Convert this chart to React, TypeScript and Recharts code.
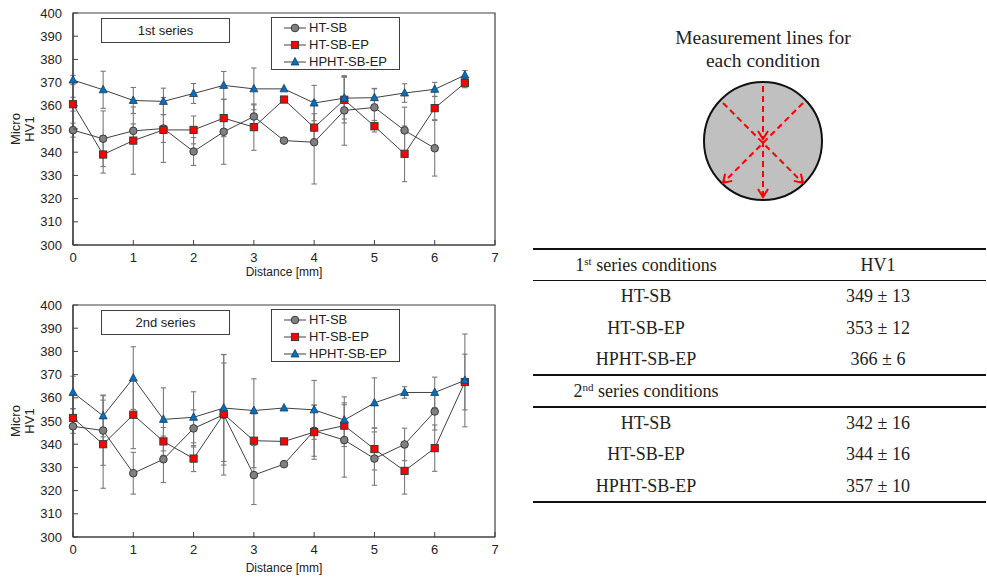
import React from "react";
import { LineChart, Line, XAxis, YAxis, ErrorBar, ReferenceArea, Legend } from "recharts";

const distances = [0, 0.5, 1, 1.5, 2, 2.5, 3, 3.5, 4, 4.5, 5, 5.5, 6, 6.5];
const seriesNames = ["HT-SB", "HT-SB-EP", "HPHT-SB-EP"];
const xTicks = [0, 1, 2, 3, 4, 5, 6, 7];
const yTicks = [300, 310, 320, 330, 340, 350, 360, 370, 380, 390, 400];

// 1st series
const s1HtSb = [349.5, 345.8, 349.2, 350.2, 340.3, 348.8, 355.4, 345.0, 344.3, 358.0, 359.3, 349.4, 341.7, null];
const s1HtSbErr = [3, 12, 3, 6, 6, 14, 5, 0, 18, 15, 8, 10, 12, 0];
const s1HtSbEp = [360.7, 339.0, 345.0, 349.6, 349.6, 354.7, 350.8, 362.7, 350.6, 362.6, 351.2, 339.3, 359.0, 369.8];
const s1HtSbEpErr = [3, 8, 14.5, 14, 6, 8, 10, 0, 6, 10, 2.5, 12, 5, 2];
const s1HphtSbEp = [371.1, 366.9, 362.3, 361.9, 365.3, 368.8, 367.3, 367.3, 361.2, 363.3, 363.5, 365.5, 367.1, 373.2];
const s1HphtSbEpErr = [2, 8, 5.6, 5.7, 4.3, 6, 9, 0, 7.6, 9, 4, 4, 3, 2];

// 2nd series
const s2HtSb = [347.7, 345.9, 327.5, 333.5, 346.8, 352.7, 326.7, 331.4, 345.8, 341.8, 333.8, 339.9, 354.1, null];
const s2HtSbErr = [3, 15, 9, 10, 8, 26, 12.7, 0, 11, 16, 11.5, 7, 8, 0];
const s2HtSbEp = [351.3, 340.0, 352.7, 341.2, 333.8, 353.0, 341.5, 341.2, 345.2, 348.0, 337.9, 328.5, 338.3, 366.8];
const s2HtSbEpErr = [4, 19, 14.6, 6, 5.6, 22, 11.6, 0, 11.7, 9, 9, 10, 10, 12];
const s2HphtSbEp = [362.3, 352.2, 368.5, 350.7, 351.6, 355.6, 354.5, 355.6, 354.8, 350.4, 357.8, 362.3, 362.3, 367.5];
const s2HphtSbEpErr = [7, 9, 13.5, 13.6, 11, 23, 13.7, 0, 12.7, 10, 10.8, 2.5, 6.6, 20];

// table values
const conditions = ["HT-SB", "HT-SB-EP", "HPHT-SB-EP"];
const firstHv = ["349 ± 13", "353 ± 12", "366 ± 6"];
const secondHv = ["342 ± 16", "344 ± 16", "357 ± 10"];

const sans = "Arial, 'Liberation Sans', sans-serif";
const serif = "'Times New Roman', 'Liberation Serif', serif";
const axisColor = "#404040";

function buildRows(a: (number | null)[], ae: number[], b: number[], be: number[], c: number[], ce: number[]) {
  return distances.map((d, i) => ({ d, a: a[i], ae: ae[i], b: b[i], be: be[i], c: c[i], ce: ce[i] }));
}

const rows1 = buildRows(s1HtSb, s1HtSbErr, s1HtSbEp, s1HtSbEpErr, s1HphtSbEp, s1HphtSbEpErr);
const rows2 = buildRows(s2HtSb, s2HtSbErr, s2HtSbEp, s2HtSbEpErr, s2HphtSbEp, s2HphtSbEpErr);

const circleDot = (p: any) =>
  p.cy == null ? <g key={`c${p.index}`} /> : (
    <circle key={`c${p.index}`} cx={p.cx} cy={p.cy} r={3.8} fill="#808080" stroke="#3a3a3a" strokeWidth={1} />
  );
const squareDot = (p: any) =>
  p.cy == null ? <g key={`s${p.index}`} /> : (
    <rect key={`s${p.index}`} x={p.cx - 3.6} y={p.cy - 3.6} width={7.2} height={7.2} fill="#ff0000" stroke="#3a3a3a" strokeWidth={1} />
  );
const triDot = (p: any) =>
  p.cy == null ? <g key={`t${p.index}`} /> : (
    <polygon
      key={`t${p.index}`}
      points={`${p.cx},${p.cy - 4.5} ${p.cx - 4},${p.cy + 3} ${p.cx + 4},${p.cy + 3}`}
      fill="#0070c0"
      stroke="#1f3b5a"
      strokeWidth={0.8}
    />
  );

const XTick = (props: any) => {
  const { x, y, payload } = props;
  return (
    <g>
      <line x1={x} x2={x} y1={y - 12} y2={y - 17} stroke={axisColor} />
      <text x={x} y={y} dy={4.5} textAnchor="middle" fontSize={13} fontFamily={sans} fill="#222">
        {payload.value}
      </text>
    </g>
  );
};

const YTick = (props: any) => {
  const { x, y, payload } = props;
  return (
    <g>
      <line x1={x + 11} x2={x + 16} y1={y} y2={y} stroke={axisColor} />
      <text x={x} y={y} dy={4.5} textAnchor="end" fontSize={13} fontFamily={sans} fill="#222">
        {payload.value}
      </text>
    </g>
  );
};

const YLabel = (props: any) => {
  const vb = props.viewBox || { y: 13, height: 232 };
  const cx = 22;
  const cy = vb.y + vb.height / 2;
  return (
    <text x={cx} y={cy} transform={`rotate(-90, ${cx}, ${cy})`} textAnchor="middle" fontSize={13} fontFamily={sans} fill="#222">
      <tspan x={cx} dy={-2.5}>Micro</tspan>
      <tspan x={cx} dy={14}>HV1</tspan>
    </text>
  );
};

const LegendBox = () => {
  const marks = [
    <circle cx={11} cy={7} r={3.8} fill="#808080" stroke="#3a3a3a" />,
    <rect x={7.4} y={3.4} width={7.2} height={7.2} fill="#ff0000" stroke="#3a3a3a" />,
    <polygon points="11,2.5 7,10 15,10" fill="#0070c0" stroke="#1f3b5a" strokeWidth={0.8} />,
  ];
  return (
    <div
      style={{
        width: 127,
        height: 50,
        border: `1px solid ${axisColor}`,
        background: "#fff",
        boxSizing: "content-box",
        paddingTop: 1,
      }}
    >
      {seriesNames.map((n, i) => (
        <div key={n} style={{ display: "flex", alignItems: "center", height: 17, paddingLeft: 12 }}>
          <svg width={24} height={14}>
            <line x1={0} x2={22} y1={7} y2={7} stroke={axisColor} />
            {marks[i]}
          </svg>
          <span style={{ fontFamily: sans, fontSize: 13, color: "#222", lineHeight: "17px", marginLeft: 1 }}>{n}</span>
        </div>
      ))}
    </div>
  );
};

function HardnessChart({ rows, title, top, labelOffset }: { rows: any[]; title: string; top: number; labelOffset: number }) {
  return (
    <div style={{ position: "absolute", left: 0, top, width: 510, height: 285 }}>
      <LineChart width={510} height={285} data={rows} margin={{ top: 13, right: 15, bottom: 0, left: 0 }}>
        <XAxis
          type="number"
          dataKey="d"
          domain={[0, 7]}
          ticks={xTicks}
          tickSize={0}
          tickMargin={12}
          tickLine={false}
          tick={<XTick />}
          axisLine={{ stroke: axisColor, strokeWidth: 1.2 }}
          height={40}
          label={{ value: "Distance [mm]", position: "insideBottom", offset: labelOffset, fontSize: 12, fill: "#222", fontFamily: sans }}
        />
        <YAxis
          type="number"
          domain={[300, 400]}
          ticks={yTicks}
          width={73}
          tickSize={0}
          tickMargin={11}
          tickLine={false}
          tick={<YTick />}
          axisLine={{ stroke: axisColor, strokeWidth: 1.2 }}
          label={{ content: (p: any) => <YLabel {...p} /> }}
        />
        <ReferenceArea x1={0} x2={7} y1={300} y2={400} fill="none" stroke={axisColor} strokeWidth={1.2} />
        <Legend
          layout="vertical"
          align="center"
          verticalAlign="middle"
          content={() => <LegendBox />}
          wrapperStyle={{ left: 271, top: 17, width: 129, height: 52 }}
        />
        <Line dataKey="a" name={seriesNames[0]} type="linear" stroke={axisColor} strokeWidth={1} dot={circleDot} activeDot={false} isAnimationActive={false}>
          <ErrorBar dataKey="ae" direction="y" width={2.7} stroke="#7a7a7a" strokeWidth={1.1} />
        </Line>
        <Line dataKey="b" name={seriesNames[1]} type="linear" stroke={axisColor} strokeWidth={1} dot={squareDot} activeDot={false} isAnimationActive={false}>
          <ErrorBar dataKey="be" direction="y" width={2.7} stroke="#7a7a7a" strokeWidth={1.1} />
        </Line>
        <Line dataKey="c" name={seriesNames[2]} type="linear" stroke={axisColor} strokeWidth={1} dot={triDot} activeDot={false} isAnimationActive={false}>
          <ErrorBar dataKey="ce" direction="y" width={2.7} stroke="#7a7a7a" strokeWidth={1.1} />
        </Line>
      </LineChart>
      <div
        style={{
          position: "absolute",
          left: 101,
          top: 18,
          width: 127,
          height: 23,
          border: `1px solid ${axisColor}`,
          background: "#fff",
          fontFamily: sans,
          fontSize: 13,
          color: "#222",
          textAlign: "center",
          lineHeight: "23px",
        }}
      >
        {title}
      </div>
    </div>
  );
}

function Diagram() {
  const ox = 520;
  const L = (x: number) => x - ox;
  const dash = "6 4";
  return (
    <svg style={{ position: "absolute", left: ox, top: 0 }} width={467} height={240}>
      <defs>
        <marker id="arrowRed" markerUnits="userSpaceOnUse" markerWidth={13} markerHeight={13} refX={10} refY={6.5} orient="auto">
          <path d="M2,1.5 L10,6.5 L2,11.5" fill="none" stroke="#ff0000" strokeWidth={2} />
        </marker>
      </defs>
      <text x={L(763)} y={44} textAnchor="middle" fontFamily={serif} fontSize={19.5} fill="#222">
        Measurement lines for
      </text>
      <text x={L(763)} y={67} textAnchor="middle" fontFamily={serif} fontSize={19.5} fill="#222">
        each condition
      </text>
      <circle cx={L(763)} cy={141} r={59} fill="#c0c0c0" stroke="#111" strokeWidth={2} />
      <g stroke="#ff0000" strokeWidth={2} strokeDasharray={dash} fill="none">
        <line x1={L(763)} y1={86} x2={L(763)} y2={139} markerEnd="url(#arrowRed)" />
        <line x1={L(763)} y1={141} x2={L(763)} y2={197} markerEnd="url(#arrowRed)" />
        <line x1={L(723)} y1={103} x2={L(803)} y2={183} markerEnd="url(#arrowRed)" />
        <line x1={L(803)} y1={103} x2={L(723)} y2={183} markerEnd="url(#arrowRed)" />
      </g>
    </svg>
  );
}

function Rule({ top, w }: { top: number; w: number }) {
  return <div style={{ position: "absolute", left: 533, top: top - w / 2, width: 453, height: w, background: "#111" }} />;
}

function Cell({ y, x, children }: { y: number; x: number; children: React.ReactNode }) {
  return (
    <div
      style={{
        position: "absolute",
        left: x - 120,
        top: y - 11,
        width: 240,
        height: 22,
        lineHeight: "22px",
        textAlign: "center",
        fontFamily: serif,
        fontSize: 18,
        color: "#222",
        whiteSpace: "nowrap",
      }}
    >
      {children}
    </div>
  );
}

function Table() {
  const c1 = 646;
  const c2 = 878;
  const rows1Y = [296, 327.5, 359];
  const rows2Y = [422.5, 454, 486];
  const sup = { fontSize: 11, verticalAlign: "top", lineHeight: "14px" } as React.CSSProperties;
  return (
    <div>
      <Rule top={248.5} w={2} />
      <Cell y={264.5} x={c1}>
        1<span style={sup}>st</span> series conditions
      </Cell>
      <Cell y={264.5} x={c2}>HV1</Cell>
      <Rule top={280.5} w={1.5} />
      {conditions.map((c, i) => (
        <React.Fragment key={"a" + c}>
          <Cell y={rows1Y[i]} x={c1}>{c}</Cell>
          <Cell y={rows1Y[i]} x={c2}>{firstHv[i]}</Cell>
        </React.Fragment>
      ))}
      <Rule top={375} w={2} />
      <Cell y={391} x={c1}>
        2<span style={sup}>nd</span> series conditions
      </Cell>
      <Rule top={407} w={1.5} />
      {conditions.map((c, i) => (
        <React.Fragment key={"b" + c}>
          <Cell y={rows2Y[i]} x={c1}>{c}</Cell>
          <Cell y={rows2Y[i]} x={c2}>{secondHv[i]}</Cell>
        </React.Fragment>
      ))}
      <Rule top={502} w={2.5} />
    </div>
  );
}

export default function App() {
  return (
    <div style={{ position: "absolute", left: 0, top: 0, width: 987, height: 577, background: "#fff", overflow: "hidden" }}>
      <HardnessChart rows={rows1} title="1st series" top={0} labelOffset={9} />
      <HardnessChart rows={rows2} title="2nd series" top={292} labelOffset={5} />
      <Diagram />
      <Table />
    </div>
  );
}
